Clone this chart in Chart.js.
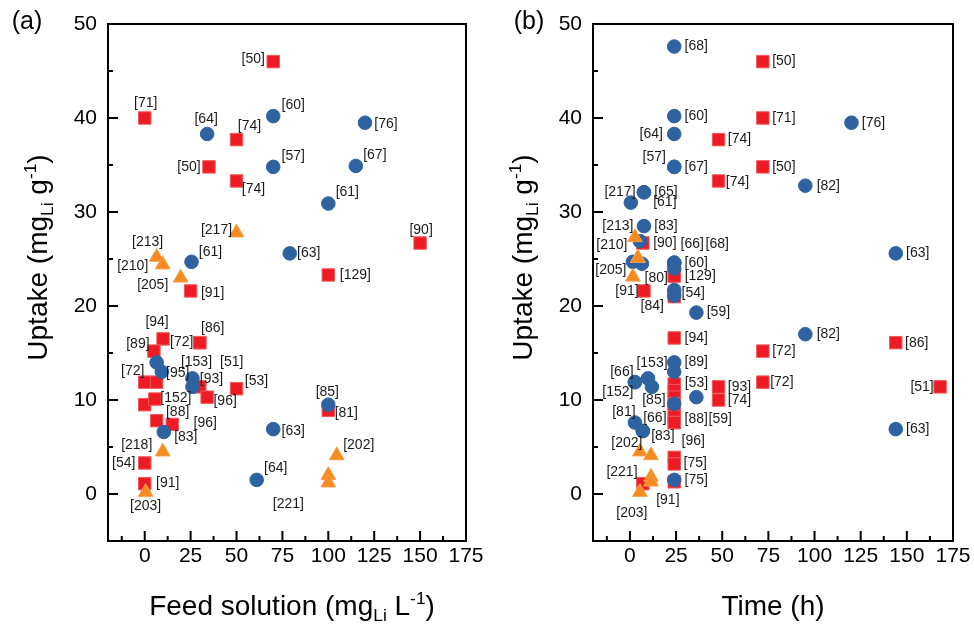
<!DOCTYPE html>
<html>
<head>
<meta charset="utf-8">
<script src="https://cdn.jsdelivr.net/npm/chart.js@4.4.1/dist/chart.umd.min.js"></script>
<style>
  body { margin: 0; background: #fff; }
  #wrap { position: relative; width: 974px; height: 625px; }
  canvas { position: absolute; top: 0; }
</style>
</head>
<body>
<div id="wrap">
  <canvas id="chartA" width="490" height="625" style="left:0"></canvas>
  <canvas id="chartB" width="484" height="625" style="left:490px"></canvas>
</div>
<script>
// axis ticks (both panels)
const xTickValues = [0, 25, 50, 75, 100, 125, 150, 175];
const xMinorValues = [-12.5, 12.5, 37.5, 62.5, 87.5, 112.5, 137.5, 162.5];
const yTickValues = [0, 10, 20, 30, 40, 50];
const yMinorValues = [5, 15, 25, 35, 45];

// panel (a): uptake vs feed solution concentration
const feedSquareX = [70, 0, 50, 35, 50, 150, 100, 25, 10, 30, 30, 5, 0, 6.5, 0, 5.5, 30, 50, 34, 6.5, 15, 0, 0, 100];
const feedSquareY = [46.0, 40.0, 37.7, 34.8, 33.3, 26.7, 23.3, 21.6, 16.5, 16.1, 16.1, 15.2, 11.9, 11.9, 9.5, 10.1, 11.4, 11.2, 10.3, 7.8, 7.4, 3.3, 1.1, 8.9];
const feedSquareRef = ['[50]', '[71]', '[74]', '[50]', '[74]', '[90]', '[129]', '[91]', '[94]', '[86]', '[72]', '[89]', '[72]', '', '', '[152]', '[51]', '[53]', '[96]', '[88]', '[96]', '[54]', '[91]', '[81]'];

const feedCircleX = [34, 70, 70, 120, 115, 100, 79, 25.5, 6.5, 9.3, 26, 26, 10.4, 70, 61, 100];
const feedCircleY = [38.3, 40.2, 34.8, 39.5, 34.9, 30.9, 25.6, 24.7, 14.0, 13.0, 12.3, 11.4, 6.6, 6.9, 1.5, 9.5];
const feedCircleRef = ['[64]', '[60]', '[57]', '[76]', '[67]', '[61]', '[63]', '[61]', '', '[95]', '[153]', '[93]', '[83]', '[63]', '[64]', '[85]'];

const feedTriangleX = [50, 6.5, 9.8, 19.6, 9.8, 0.5, 104.6, 100, 100];
const feedTriangleY = [27.8, 25.2, 24.4, 23.0, 4.5, 0.2, 4.1, 2.0, 1.2];
const feedTriangleRef = ['[217]', '[213]', '[210]', '[205]', '[218]', '[203]', '[202]', '[221]', ''];

// panel (b): uptake vs time
const timeSquareX = [72, 72, 48, 72, 48, 7, 24, 24, 7.6, 24, 24, 72, 144, 72, 168, 48, 48, 24, 24, 24, 24, 24, 24, 24, 24, 24, 24, 24, 7];
const timeSquareY = [46.0, 40.0, 37.7, 34.8, 33.3, 26.7, 23.2, 23.2, 21.6, 21.0, 16.6, 15.2, 16.1, 11.9, 11.4, 11.4, 10.0, 11.7, 11.0, 10.3, 9.6, 8.9, 8.2, 7.6, 7.6, 3.9, 3.2, 1.3, 1.1];
const timeSquareRef = ['[50]', '[71]', '[74]', '[50]', '[74]', '[90]', '[129]', '[80]', '[91]', '[84]', '[94]', '[72]', '[86]', '[72]', '[51]', '[93]', '[74]', '', '', '', '', '', '[59]', '[88]', '[96]', '', '[75]', '', '[91]'];

const timeCircleX = [24, 24, 24, 24, 24, 120, 95, 7.6, 7.6, 0.5, 7.6, 5.4, 1.6, 6.5, 24, 24, 24, 24, 24, 24, 36, 24, 24, 2.7, 2.7, 9.8, 11.9, 24, 36, 2.7, 7, 7, 95, 144, 144, 24];
const timeCircleY = [47.6, 40.2, 38.3, 34.8, 34.8, 39.5, 32.8, 32.1, 32.1, 31.0, 28.5, 26.9, 24.7, 24.5, 24.6, 24.6, 24.6, 24.0, 21.7, 21.1, 19.3, 14.0, 13.0, 11.9, 11.9, 12.3, 11.4, 9.6, 10.3, 7.6, 6.7, 6.7, 17.0, 25.6, 6.9, 1.5];
const timeCircleRef = ['[68]', '[60]', '[64]', '[67]', '[57]', '[76]', '[82]', '[65]', '[217]', '[61]', '[83]', '', '', '', '[60]', '[66]', '[68]', '', '[54]', '', '[59]', '[89]', '', '[66]', '[152]', '[153]', '[85]', '', '[53]', '[81]', '[66]', '[83]', '[82]', '[63]', '[63]', '[75]'];

const timeTriangleX = [2.7, 4.3, 4.3, 1.6, 5.4, 11.4, 11.4, 11.4, 5.4];
const timeTriangleY = [27.3, 25.1, 25.1, 23.1, 4.5, 4.1, 1.8, 1.3, 0.2];
const timeTriangleRef = ['[213]', '[210]', '[205]', '', '[202]', '', '[221]', '', '[203]'];

// where each reference label sits relative to its marker, in px
const feedSquareLabelAt = [[-20,-2],[1,-15],[13,-13],[-20,0],[17,8],[1,-13],[27,0],[22,2],[-6,-17],[13,-15],[-18,-1],[-16,-7],[-12,-11],[0,0],[0,0],[21,-1],[32,-25],[20,-8],[18,4],[21,-9],[33,-1],[-21,0],[23,-1],[18,3]];
const feedCircleLabelAt = [[-1,-15],[20,-11],[20,-11],[21,1],[19,-11],[19,-11],[19,0],[19,-10],[0,0],[16,1],[4,-16],[19,-8],[22,5],[20,2],[19,-12],[-1,-13]];
const feedTriangleLabelAt = [[-20,-3],[-9,-15],[-30,2],[-28,7],[-26,-7],[0,14],[22,-10],[-40,29],[0,0]];
const timeSquareLabelAt = [[21,0],[21,0],[21,0],[21,0],[19,1],[22,0],[26,0],[-18,2],[-17,0],[-22,10],[22,0],[21,0],[21,0],[19,0],[-18,0],[21,0],[21,0],[0,0],[0,0],[0,0],[0,0],[0,0],[46,2],[22,-3],[19,19],[0,0],[21,-1],[0,0],[25,16]];
const timeCircleLabelAt = [[22,0],[22,0],[-23,0],[22,0],[-20,-10],[22,0],[23,0],[22,0],[-24,0],[34,0],[22,0],[0,0],[0,0],[0,0],[22,0],[18,-19],[43,-19],[0,0],[19,3],[0,0],[22,0],[22,0],[0,0],[-13,-10],[-17,10],[4,-15],[2,13],[0,0],[0,-14],[-11,-10],[12,-13],[20,5],[23,0],[22,0],[22,0],[22,0]];
const timeTriangleLabelAt = [[-17,-11],[-26,-13],[-27,12],[0,0],[-13,-9],[0,0],[-29,-5],[0,0],[-8,21]];

const FONT = '"Liberation Sans", Arial, Helvetica, sans-serif';
Chart.defaults.font.family = FONT;
Chart.defaults.color = '#000';

const yTitle = [{ t: 'Uptake (mg' }, { t: 'Li', sub: true }, { t: ' g' }, { t: '-1', sup: true }, { t: ')' }];
const panelCfg = {
  chartA: { panel: '(a)', panelX: 27, yTitleX: 38, xTitleX: 292,
            xTitle: [{ t: 'Feed solution (mg' }, { t: 'Li', sub: true }, { t: ' L' }, { t: '-1', sup: true }, { t: ')' }] },
  chartB: { panel: '(b)', panelX: 39, yTitleX: 33, xTitleX: 283,
            xTitle: [{ t: 'Time (h)' }] }
};

function drawRich(ctx, segs, cx, cy, size, rot) {
  ctx.save();
  ctx.translate(cx, cy);
  ctx.rotate(rot);
  let total = 0;
  const parts = segs.map(s => {
    const fs = (s.sub || s.sup) ? size * 0.62 : size;
    ctx.font = fs + 'px ' + FONT;
    const w = ctx.measureText(s.t).width;
    total += w;
    return { s, fs, w };
  });
  let x = -total / 2;
  ctx.textAlign = 'left';
  ctx.textBaseline = 'alphabetic';
  ctx.fillStyle = '#000';
  parts.forEach(p => {
    ctx.font = p.fs + 'px ' + FONT;
    const dy = p.s.sub ? size * 0.22 : (p.s.sup ? -size * 0.4 : 0);
    ctx.fillText(p.s.t, x, size * 0.32 + dy);
    x += p.w;
  });
  ctx.restore();
}

const decorations = {
  id: 'decorations',
  afterDatasetsDraw(chart) {
    const ctx = chart.ctx;
    const { left, right, top, bottom } = chart.chartArea;
    const xs = chart.scales.x, ys = chart.scales.y;
    const cfg = panelCfg[chart.canvas.id];
    ctx.save();

    // reference labels
    ctx.font = '14px ' + FONT;
    ctx.fillStyle = '#1a1a1a';
    ctx.textAlign = 'center';
    ctx.textBaseline = 'middle';
    chart.data.datasets.forEach((ds, di) => {
      chart.getDatasetMeta(di).data.forEach((el, i) => {
        const ref = ds.refs[i];
        if (!ref) return;
        const [dx, dy] = ds.refAt[i];
        ctx.fillText(ref, el.x + dx, el.y + dy);
      });
    });

    // frame + inward ticks
    ctx.strokeStyle = '#000';
    ctx.lineWidth = 2;
    ctx.strokeRect(left, top, right - left, bottom - top);
    ctx.beginPath();
    yTickValues.forEach(v => { const p = ys.getPixelForValue(v); ctx.moveTo(left, p); ctx.lineTo(left + 10, p); });
    yMinorValues.forEach(v => { const p = ys.getPixelForValue(v); ctx.moveTo(left, p); ctx.lineTo(left + 5, p); });
    xTickValues.forEach(v => { const p = xs.getPixelForValue(v); ctx.moveTo(p, bottom); ctx.lineTo(p, bottom - 10); });
    xMinorValues.forEach(v => { const p = xs.getPixelForValue(v); ctx.moveTo(p, bottom); ctx.lineTo(p, bottom - 5); });
    ctx.stroke();

    // titles
    drawRich(ctx, yTitle, cfg.yTitleX, (top + bottom) / 2 - 25, 28, -Math.PI / 2);
    drawRich(ctx, cfg.xTitle, cfg.xTitleX, 606, 28, 0);
    ctx.font = '25px ' + FONT;
    ctx.fillStyle = '#000';
    ctx.textAlign = 'center';
    ctx.textBaseline = 'middle';
    ctx.fillText(cfg.panel, cfg.panelX, 22);
    ctx.restore();
  }
};

function series(xv, yv, refs, at, style, r, fill, line) {
  return {
    data: xv.map((v, i) => ({ x: v, y: yv[i] })),
    refs: refs, refAt: at,
    pointStyle: style, pointRadius: r, backgroundColor: fill, borderColor: line, borderWidth: 1
  };
}

function buildChart(id, sets, yAxisWidth, padRight) {
  return new Chart(document.getElementById(id), {
    type: 'scatter',
    data: { datasets: sets },
    options: {
      responsive: false,
      animation: false,
      events: [],
      layout: { padding: { left: 0, right: padRight, top: 24, bottom: 0 } },
      plugins: { legend: { display: false }, tooltip: { enabled: false } },
      scales: {
        x: {
          type: 'linear', min: -20, max: 175,
          afterBuildTicks: s => { s.ticks = xTickValues.map(v => ({ value: v })); },
          afterFit: s => { s.height = 84; },
          grid: { display: false, drawTicks: false },
          border: { display: false },
          ticks: { font: { size: 21 }, color: '#000', padding: 3, maxRotation: 0, autoSkip: false }
        },
        y: {
          type: 'linear', min: -5, max: 50,
          afterBuildTicks: s => { s.ticks = yTickValues.map(v => ({ value: v })); },
          afterFit: s => { s.width = yAxisWidth; },
          grid: { display: false, drawTicks: false },
          border: { display: false },
          ticks: { font: { size: 21 }, color: '#000', padding: 11, autoSkip: false }
        }
      }
    },
    plugins: [decorations]
  });
}

const ORANGE = '#f58a1f', ORANGE_EDGE = '#f7a04a';
const BLUE = '#2f62a0';
const RED = '#ed1c24', RED_EDGE = '#f2585d';

buildChart('chartA', [
  series(feedTriangleX, feedTriangleY, feedTriangleRef, feedTriangleLabelAt, 'triangle', 8.5, ORANGE, ORANGE_EDGE),
  series(feedCircleX, feedCircleY, feedCircleRef, feedCircleLabelAt, 'circle', 6.8, BLUE, BLUE),
  series(feedSquareX, feedSquareY, feedSquareRef, feedSquareLabelAt, 'rect', 8.8, RED, RED_EDGE)
], 108, 24);

buildChart('chartB', [
  series(timeTriangleX, timeTriangleY, timeTriangleRef, timeTriangleLabelAt, 'triangle', 8.5, ORANGE, ORANGE_EDGE),
  series(timeCircleX, timeCircleY, timeCircleRef, timeCircleLabelAt, 'circle', 6.8, BLUE, BLUE),
  series(timeSquareX, timeSquareY, timeSquareRef, timeSquareLabelAt, 'rect', 8.8, RED, RED_EDGE)
], 103, 21);
</script>
</body>
</html>
